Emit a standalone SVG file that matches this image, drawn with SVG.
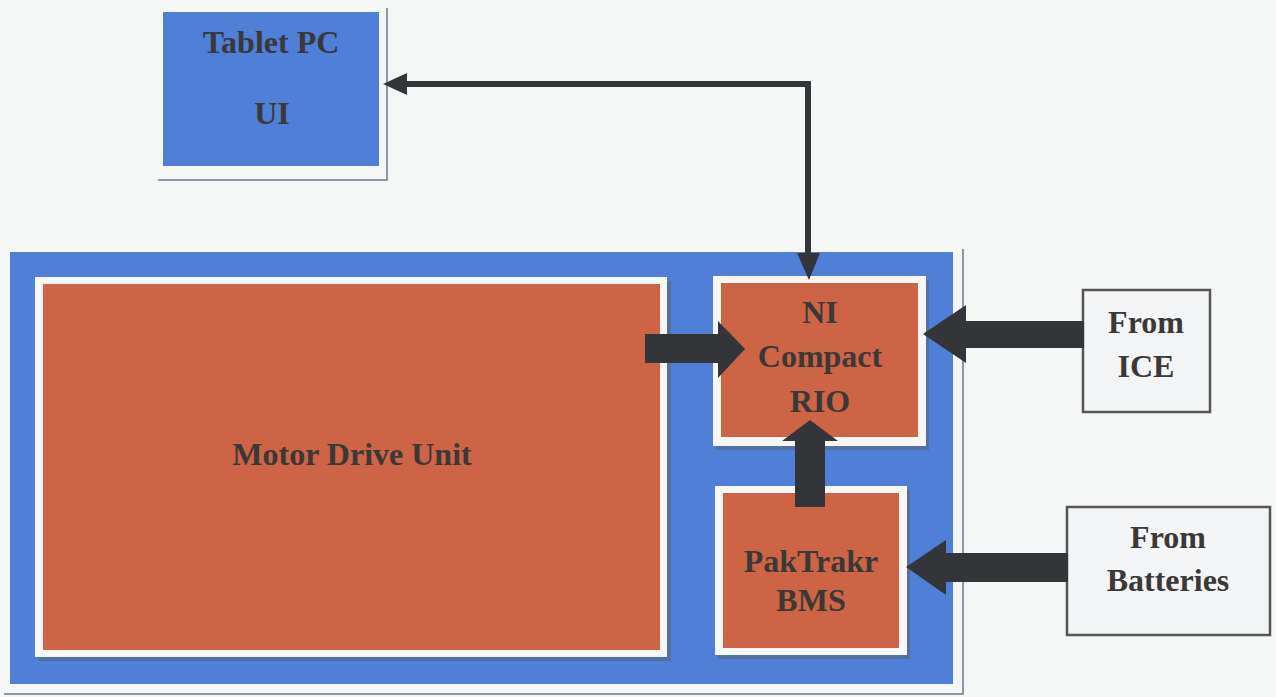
<svg xmlns="http://www.w3.org/2000/svg" width="1276" height="697" viewBox="0 0 1276 697">
<style>
.t{font-family:"Liberation Serif","Times New Roman",serif;font-weight:bold;fill:#3b3838;text-anchor:middle;font-size:32px}
.blue{fill:#4f7fd6}
.org{fill:#cd6446}
.wb{fill:#f7f7f8}
.sh{fill:#5a6478;opacity:0.55}
.frame{fill:none;stroke:#8e97a8;stroke-width:2}
.box{fill:#f4f5f7;stroke:#555;stroke-width:2.5}
.blk{fill:#333538}
.ln{fill:none;stroke:#333538;stroke-width:6}
</style>
<rect width="1276" height="697" fill="#f5f6f6"/>

<g id="tablet">
<path class="frame" d="M387,8 V180 H158"/>
<rect class="blue" x="163" y="12" width="216" height="154"/>
<text class="t" x="271" y="53">Tablet PC</text>
<text class="t" x="272" y="124">UI</text>
</g>

<g id="system">
<path class="frame" d="M963,249 V694 H4"/>
<rect class="blue" x="10" y="252" width="943" height="432"/>
</g>

<g id="motor">
<rect class="sh" x="38" y="281" width="633" height="380"/>
<rect class="wb" x="35" y="277" width="632" height="380"/>
<rect class="org" x="43" y="284" width="617" height="366"/>
<text class="t" x="352" y="465">Motor Drive Unit</text>
</g>

<g id="crio">
<rect class="sh" x="716" y="280" width="213" height="170"/>
<rect class="wb" x="713" y="276" width="213" height="170"/>
<rect class="org" x="721" y="283" width="197" height="154"/>
<text class="t" x="820" y="323">NI</text>
<text class="t" x="820" y="367">Compact</text>
<text class="t" x="820" y="412">RIO</text>
</g>

<g id="bms">
<rect class="sh" x="718" y="490" width="192" height="169"/>
<rect class="wb" x="715" y="486" width="192" height="169"/>
<rect class="org" x="723" y="493" width="176" height="155"/>
<text class="t" x="811" y="572">PakTrakr</text>
<text class="t" x="811" y="611">BMS</text>
</g>

<g id="ice">
<rect class="box" x="1083" y="290" width="127" height="122"/>
<text class="t" x="1146" y="333">From</text>
<text class="t" x="1146" y="377">ICE</text>
</g>

<g id="batteries">
<rect class="box" x="1067" y="507" width="203" height="128"/>
<text class="t" x="1168" y="548">From</text>
<text class="t" x="1168" y="591">Batteries</text>
</g>

<g id="connectors">
<path class="ln" d="M808,255 V84 H404"/>
<polygon class="blk" points="383,84 407,73 407,95"/>
<polygon class="blk" points="797,253 820,253 809,280"/>
<polygon class="blk" points="645,334 718,334 718,321 745,349 718,378 718,363 645,363"/>
<polygon class="blk" points="1084,321 966,321 966,305 923,334 966,363 966,348 1084,348"/>
<polygon class="blk" points="1068,553 946,553 946,540 906,567 946,595 946,582 1068,582"/>
<polygon class="blk" points="795,507 795,441 782,441 810,420 838,441 825,441 825,507"/>
</g>
</svg>
